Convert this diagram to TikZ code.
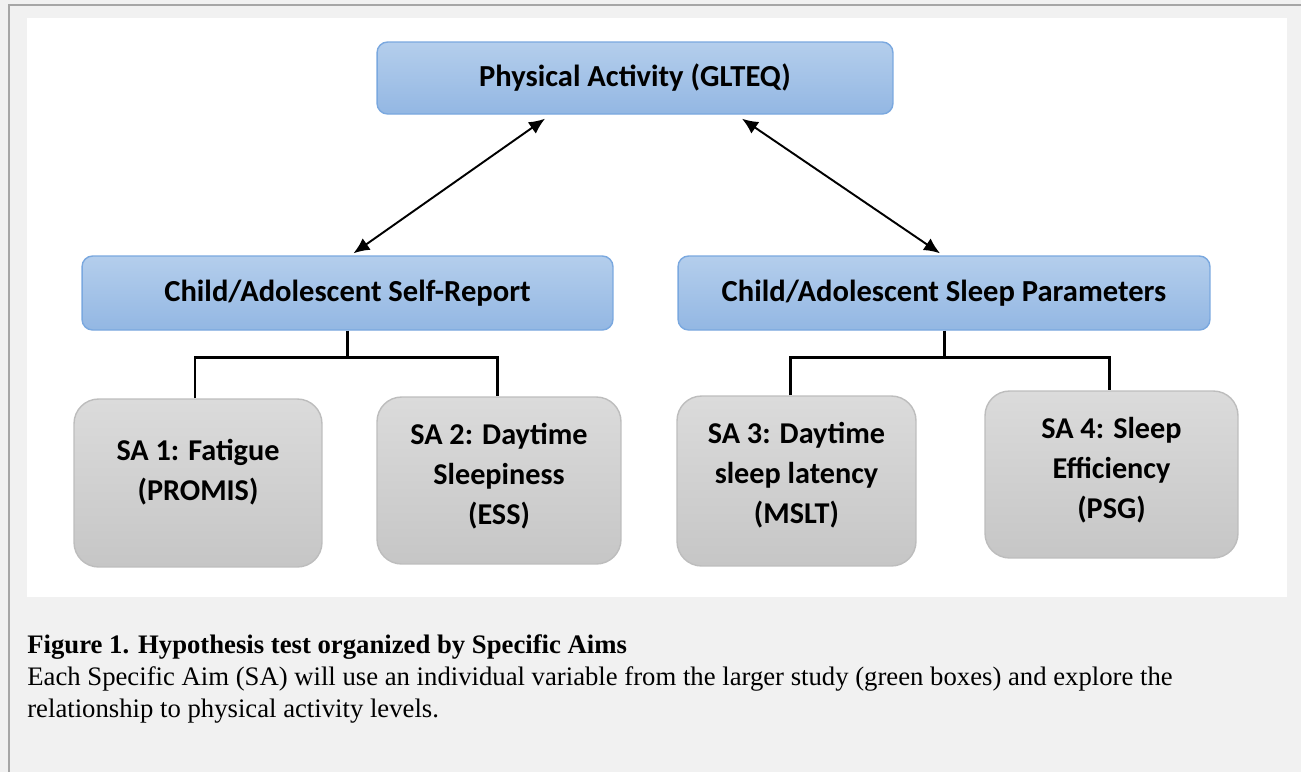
\documentclass[tikz,border=0pt]{standalone}
\usepackage{fontspec}
\setmainfont{Liberation Serif}
\newfontfamily\calfont{Carlito}
\usetikzlibrary{arrows.meta,positioning,calc}
\definecolor{pagegray}{HTML}{F1F1F1}
\definecolor{framegray}{HTML}{A6A6A6}
\definecolor{bluetop}{HTML}{B4CEEC}
\definecolor{bluebot}{HTML}{93B7E3}
\definecolor{blueedge}{HTML}{7AA8DF}
\definecolor{graytop}{HTML}{DBDBDB}
\definecolor{graybot}{HTML}{C6C6C6}
\definecolor{grayedge}{HTML}{BDBDBD}
\tikzset{
    headbox/.style={draw=blueedge,line width=0.8pt,rounded corners=6pt,top color=bluetop,bottom color=bluebot,
        align=center,font=\calfont\bfseries\fontsize{17.4}{20}\selectfont,inner sep=0pt},
    aimbox/.style={draw=grayedge,line width=0.8pt,rounded corners=14pt,top color=graytop,bottom color=graybot,inner sep=0pt},
    aimtext/.style={align=center,font=\calfont\bfseries\fontsize{17.2}{22.8}\selectfont,inner sep=0pt},
    link/.style={line width=1.7pt},
    arrow/.style={{Latex[length=3.2mm,width=2.8mm]}-{Latex[length=3.2mm,width=2.8mm]},line width=1.1pt}
}

\begin{document}
\begin{tikzpicture}[x=0.02cm,y=-0.02cm]
    % page and panel
    \fill[pagegray] (0,0) rectangle (1301,772);
    \useasboundingbox (0,0) rectangle (1301,772);
    \draw[framegray,line width=1pt] (9,772) -- (9,5) -- (1301,5);
    \fill[white] (27,18) rectangle (1287,597);

    % boxes
    \node[headbox,minimum width=10.32cm,minimum height=1.44cm] (pa) at (635,78) {Physical Activity (GLTEQ)};
    \node[headbox,minimum width=10.62cm,minimum height=1.48cm] (self) at (347.5,293) {Child/Adolescent Self-Report};
    \node[headbox,minimum width=10.64cm,minimum height=1.48cm] (sleep) at (944,293) {Child/Adolescent Sleep Parameters};
    \node[aimbox,minimum width=4.96cm,minimum height=3.36cm] (sa1) at (198,483) {};
    \node[aimbox,minimum width=4.88cm,minimum height=3.34cm] (sa2) at (499,480.5) {};
    \node[aimbox,minimum width=4.78cm,minimum height=3.40cm] (sa3) at (796.5,481) {};
    \node[aimbox,minimum width=5.06cm,minimum height=3.34cm] (sa4) at (1111.5,474.5) {};
    \node[aimtext] (sa1t) at ($(sa1.center)+(0,-11)$) {SA 1: Fatigue\\(PROMIS)};
    \node[aimtext] (sa2t) at ($(sa2.center)+(0,-4)$) {SA 2: Daytime\\Sleepiness\\(ESS)};
    \node[aimtext] (sa3t) at ($(sa3.center)+(0,-6)$) {SA 3: Daytime\\sleep latency\\(MSLT)};
    \node[aimtext] (sa4t) at ($(sa4.center)+(0,-4)$) {SA 4: Sleep\\Efficiency\\(PSG)};

    % arrows between levels
    \draw[arrow] ($(pa.south)+(-90,4)$) -- ($(self.north)+(6,-2)$);
    \draw[arrow] ($(pa.south)+(107,4)$) -- ($(sleep.north)+(-4,-2)$);

    % tree links
    \draw[link] (self.south) -- ++(0,27) coordinate (sj);
    \draw[link] (sa1.north -| 195,0) |- (sj) -| (sa2.north -| 497,0);
    \draw[link] (sleep.south) -- ++(0,27) coordinate (pj);
    \draw[link] (sa3.north -| 790,0) |- (pj) -| (sa4.north -| 1109,0);

    % caption
    \node[anchor=north west,align=left,inner sep=0pt,font=\fontsize{15.2}{18.2}\selectfont] (caption) at (27,634.5)
        {\textbf{Figure 1. Hypothesis test organized by Specific Aims}\\
        Each Specific Aim (SA) will use an individual variable from the larger study (green boxes) and explore the\\
        relationship to physical activity levels.};
\end{tikzpicture}
\end{document}
